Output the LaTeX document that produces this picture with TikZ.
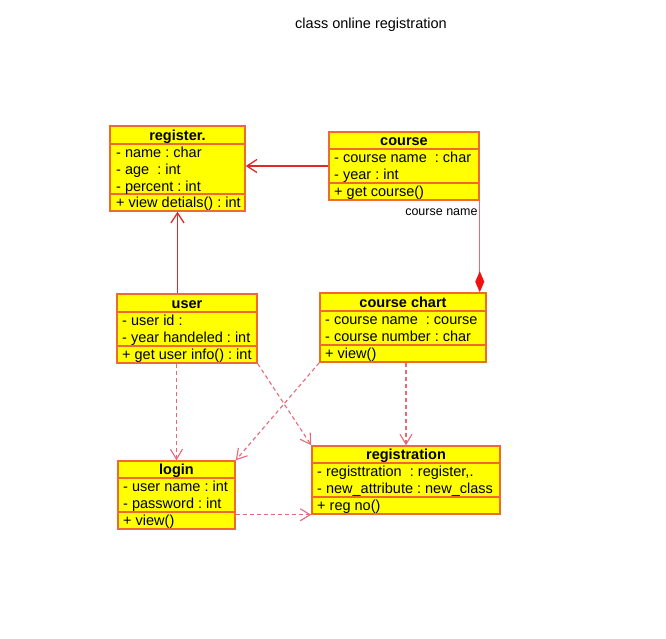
\documentclass[tikz,border=0pt]{standalone}
\usepackage{fontspec}
\setmainfont{Liberation Sans}
\usetikzlibrary{arrows.meta}
\definecolor{boxfill}{HTML}{FFFF00}
\definecolor{boxline}{HTML}{F06A30}
\definecolor{solidred}{HTML}{E02828}
\definecolor{dashred}{HTML}{E86878}
\definecolor{diamondred}{HTML}{F01010}
\frenchspacing
\newcommand\umlclass[8]{%
  \node[classbox, minimum width={#4pt-#2pt}, minimum height={#7pt-#3pt}] (#1) at ({(#2+#4)/2},{(#3+#7)/2}) {};
  \draw[divider] (#2,#5) -- (#4,#5);
  \draw[divider] (#2,#6) -- (#4,#6);
  \node[classtitle] (#1-title) at ({(#2+#4)/2},{#5-4}) {#8};
}
\begin{document}
\begin{tikzpicture}[x=1pt,y=-1pt,
  classbox/.style={draw=boxline, fill=boxfill, line width=1.5pt, inner sep=0pt},
  divider/.style={draw=boxline, line width=1.5pt},
  classtitle/.style={font=\fontsize{14.5pt}{17pt}\selectfont\bfseries, inner sep=0pt, anchor=base},
  rows/.style={font=\fontsize{14.5pt}{17pt}\selectfont\frenchspacing, inner sep=0pt, anchor=north west, align=left},
  assoc/.style={draw=solidred, line width=1.3pt, -{Straight Barb[length=10pt,width=13pt]}},
  dep/.style={draw=dashred, line width=1.1pt, dash pattern=on 4pt off 3pt, -{Straight Barb[length=10pt,width=12pt]}},
  comp/.style={draw=dashred, line width=1.3pt, -{Diamond[length=21pt,width=9pt,fill=diamondred,color=diamondred]}},
  lbl/.style={font=\fontsize{12.5pt}{15pt}\selectfont, inner sep=0pt},
  heading/.style={font=\fontsize{14.5pt}{17pt}\selectfont, inner sep=0pt, anchor=base}]
\useasboundingbox[fill=white] (0,0) rectangle (666,638);

\node[heading] (heading) at (371,28) {class online registration};

% register.
\umlclass{register}{110}{126}{245}{144}{194}{211}{register.}
\node[rows] (register-attr) at (116,145) {\strut- name : char\\\strut- age~ : int\\\strut- percent : int};
\node[rows] (register-meth) at (116,195) {\strut+ view detials() : int};

% course
\umlclass{course}{329}{132}{479}{149}{183}{200}{course}
\node[rows] (course-attr) at (334,150) {\strut- course name~ : char\\\strut- year : int};
\node[rows] (course-meth) at (334,184) {\strut+ get course()};

% user
\umlclass{user}{117}{294}{257}{312}{346}{363}{user}
\node[rows] (user-attr) at (122,313) {\strut- user id :\\\strut- year handeled : int};
\node[rows] (user-meth) at (122,347) {\strut+ get user info() : int};

% course chart
\umlclass{coursechart}{320}{293}{486}{311}{345}{362}{course chart}
\node[rows] (coursechart-attr) at (325,312) {\strut- course name~ : course\\\strut- course number : char};
\node[rows] (coursechart-meth) at (325,346) {\strut+ view()};

% login
\umlclass{login}{118}{461}{235}{478}{512}{529}{login}
\node[rows] (login-attr) at (123,479) {\strut- user name : int\\\strut- password : int};
\node[rows] (login-meth) at (123,513) {\strut+ view()};

% registration
\umlclass{registration}{312}{446}{500}{463}{497}{514}{registration}
\node[rows] (registration-attr) at (317,464) {\strut- registtration~ : register,.\\\strut- new\_attribute : new\_class};
\node[rows] (registration-meth) at (317,498) {\strut+ reg no()};

% connectors
\draw[assoc] (course.west) -- (course.west -| register.east);
\draw[assoc] (user.north -| register.south) -- (register.south);
\draw[comp] (course.south east) -- (course.south east |- coursechart.north);
\node[lbl, anchor=base east] (cnlabel) at ([xshift=-2pt,yshift=-15pt]course.south east) {course name};
\draw[dep] (user.south -| login.north) -- (login.north);
\draw[dep] (user.south east) -- (registration.north west);
\draw[dep] (coursechart.south west) -- (login.north east);
\draw[dep] (coursechart.south -| registration.north) -- (registration.north);
\draw[dep] (login.east |- registration.south west) -- (registration.south west);
\end{tikzpicture}
\end{document}
